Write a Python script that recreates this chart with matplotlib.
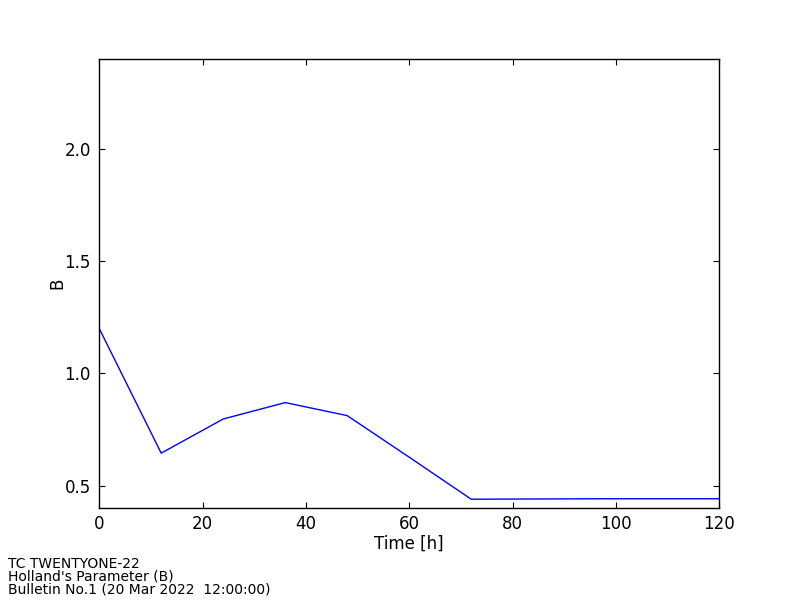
import matplotlib
matplotlib.use('Agg')
import matplotlib.pyplot as plt

# Holland's B parameter forecast
hours = [0, 12, 24, 36, 48, 60, 72, 84, 96, 108, 120]
b_param = [1.20, 0.645, 0.797, 0.870, 0.812, 0.627, 0.440, 0.441, 0.442, 0.442, 0.442]

info_lines = ["TC TWENTYONE-22",
              "Holland's Parameter (B)",
              "Bulletin No.1 (20 Mar 2022  12:00:00)"]

fig = plt.figure(figsize=(8, 6), dpi=100)
ax = fig.add_axes([0.124, 0.153, 0.775, 0.749])

ax.plot(hours, b_param, color='#0000ff', linewidth=1.0)
ax.set_xlim(0, 120)
ax.set_ylim(0.4, 2.4)
ax.set_xticks([0, 20, 40, 60, 80, 100, 120])
ax.set_yticks([0.5, 1.0, 1.5, 2.0])
ax.tick_params(direction='in', length=4, width=0.8, labelsize=12,
               top=True, right=True)
ax.tick_params(axis='x', pad=5)
ax.tick_params(axis='y', pad=6)
for s in ax.spines.values():
    s.set_linewidth(1.0)
ax.set_xlabel('Time [h]', fontsize=12, labelpad=1)
ax.set_ylabel('B', fontsize=12, labelpad=-1)

fig.text(0.01, 0.006, "\n".join(info_lines), fontsize=10, ha='left', va='bottom',
         linespacing=0.88)

fig.savefig('out.png', dpi=100)
